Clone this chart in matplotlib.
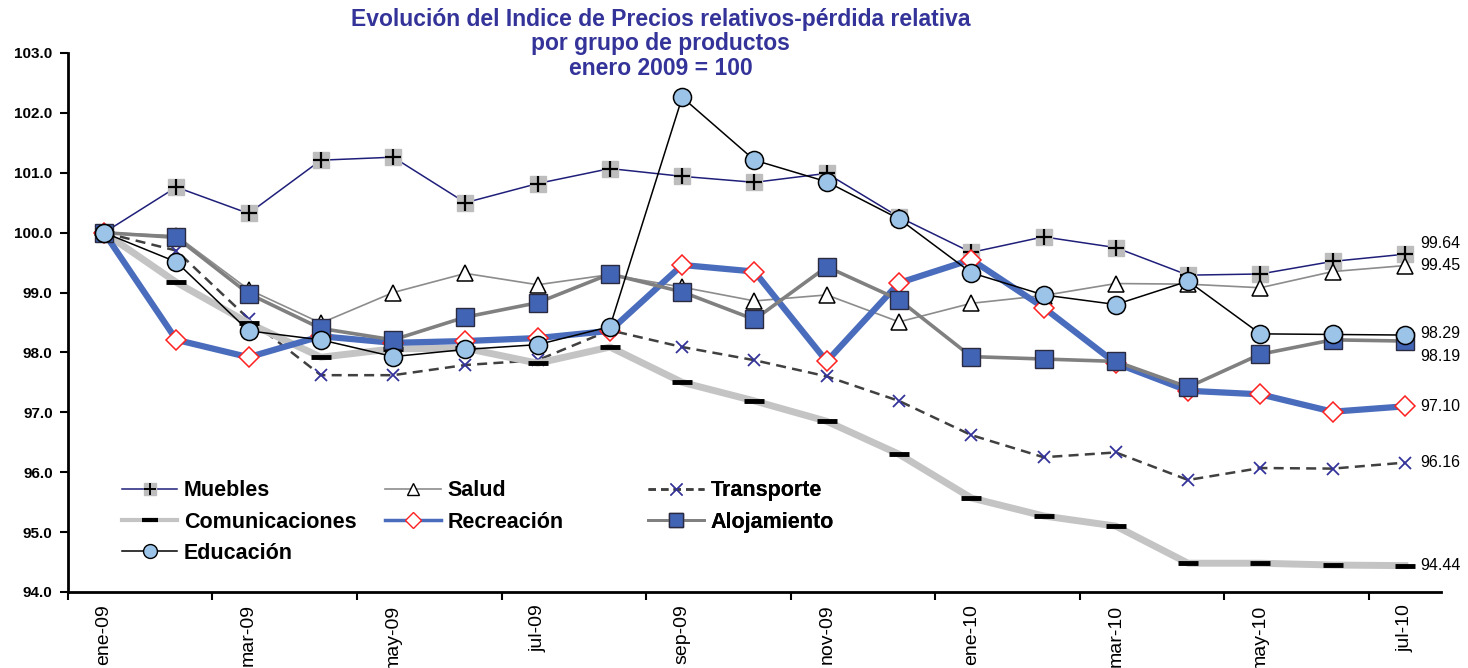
import matplotlib
matplotlib.use("Agg")
import matplotlib.pyplot as plt
from matplotlib.lines import Line2D

plt.rcParams['font.family'] = ['Liberation Sans', 'DejaVu Sans']

# meses de ene-09 a jul-10
meses = ["ene-09", "feb-09", "mar-09", "abr-09", "may-09", "jun-09", "jul-09", "ago-09",
         "sep-09", "oct-09", "nov-09", "dic-09", "ene-10", "feb-10", "mar-10", "abr-10",
         "may-10", "jun-10", "jul-10"]

muebles = [100.0, 100.76, 100.32, 101.21, 101.26, 100.50, 100.82, 101.07, 100.94, 100.84,
           100.99, 100.26, 99.67, 99.93, 99.75, 99.29, 99.31, 99.52, 99.64]
salud = [100.0, 99.95, 99.05, 98.49, 99.00, 99.32, 99.13, 99.30, 99.09, 98.86,
         98.96, 98.51, 98.82, 98.95, 99.15, 99.14, 99.08, 99.35, 99.45]
transporte = [100.0, 99.70, 98.56, 97.62, 97.62, 97.79, 97.87, 98.37, 98.09, 97.87,
              97.60, 97.19, 96.62, 96.25, 96.33, 95.87, 96.07, 96.06, 96.16]
comunicaciones = [100.0, 99.17, 98.49, 97.92, 98.06, 98.07, 97.82, 98.09, 97.50, 97.19,
                  96.85, 96.30, 95.57, 95.27, 95.10, 94.48, 94.48, 94.45, 94.44]
recreacion = [100.0, 98.21, 97.92, 98.27, 98.16, 98.19, 98.24, 98.36, 99.46, 99.35,
              97.85, 99.16, 99.55, 98.75, 97.82, 97.36, 97.30, 97.01, 97.10]
alojamiento = [100.0, 99.92, 98.98, 98.40, 98.21, 98.59, 98.83, 99.31, 99.01, 98.55,
               99.43, 98.88, 97.93, 97.89, 97.85, 97.42, 97.97, 98.21, 98.19]
educacion = [100.0, 99.51, 98.36, 98.21, 97.93, 98.05, 98.13, 98.43, 102.26, 101.21,
             100.85, 100.23, 99.33, 98.96, 98.80, 99.19, 98.31, 98.30, 98.29]

x = list(range(len(meses)))

fig = plt.figure(figsize=(14.68, 6.68), dpi=100)
ax = fig.add_axes([0.0463, 0.1138, 0.9353, 0.8069])

# Muebles: cuadro gris con una cruz negra encima
ax.plot(x, muebles, color='#1F1F7A', lw=1.1, marker='s', ms=11,
        mfc='#BDBDBD', mec='#BDBDBD', zorder=3)
ax.plot(x, muebles, ls='none', marker='+', ms=12, mew=1.6, color='black', zorder=3)
ax.plot(x, salud, color='#8C8C8C', lw=1.2, marker='^', ms=11,
        mfc='white', mec='black', mew=1.1, zorder=3)
ax.plot(x, transporte, color='#404040', lw=1.8, ls=(0, (4, 2.5)), marker='x',
        ms=9, mew=1.3, mec='#333399', zorder=3)
ax.plot(x, comunicaciones, color='#C4C4C4', lw=5, marker='_', ms=14, mew=3.5,
        mec='black', zorder=3)
ax.plot(x, recreacion, color='#4A6CBD', lw=4.5, marker='D', ms=10,
        mfc='white', mec='#FF2020', mew=1.1, zorder=4)
ax.plot(x, alojamiento, color='#808080', lw=2.6, marker='s', ms=13,
        mfc='#4264B4', mec='#2A2A40', mew=1.0, zorder=4)
ax.plot(x, educacion, color='black', lw=1.1, marker='o', ms=13,
        mfc='#9CC3E8', mec='black', mew=1.1, zorder=5)

# etiquetas del ultimo valor
ultimos = [(muebles[-1], 8), (salud[-1], 0), (educacion[-1], 1), (alojamiento[-1], -11),
           (recreacion[-1], 0), (transporte[-1], 0), (comunicaciones[-1], 0)]
for val, dy in ultimos:
    ax.annotate(f"{val:.2f}", (x[-1], val), xytext=(11, dy), textcoords='offset points',
                va='center', ha='left', fontsize=11.5, annotation_clip=False)

ax.set_xlim(-0.5, len(meses) - 0.5)
ax.set_ylim(94, 103)
ax.set_yticks([94 + i for i in range(10)])
ax.set_yticklabels([f"{94 + i:.1f}" for i in range(10)], fontweight='bold', fontsize=11)

ax.set_xticks([i - 0.5 for i in range(0, len(meses), 2)])
ax.set_xticklabels([])
ax.set_xticks(x[::2], minor=True)
ax.set_xticklabels(meses[::2], minor=True, rotation=90, fontsize=14)
ax.tick_params(axis='x', which='minor', length=0, pad=9)
ax.tick_params(axis='both', which='major', length=6, width=1.5, direction='out')
ax.tick_params(axis='y', pad=5)

for s in ['top', 'right']:
    ax.spines[s].set_visible(False)
for s in ['left', 'bottom']:
    ax.spines[s].set_linewidth(2)

# leyenda con manejadores pequeños
h_mue = (Line2D([], [], color='#1F1F7A', lw=1.1, marker='s', ms=8, mfc='#BDBDBD', mec='#BDBDBD'),
         Line2D([], [], ls='none', marker='+', ms=9, mew=1.4, color='black'))
h_sal = Line2D([], [], color='#8C8C8C', lw=1.2, marker='^', ms=9, mfc='white', mec='black')
h_tra = Line2D([], [], color='#404040', lw=1.8, ls=(0, (3, 2)), marker='x', ms=8, mec='#333399')
h_com = Line2D([], [], color='#C4C4C4', lw=3, marker='_', ms=11, mew=3, mec='black')
h_rec = Line2D([], [], color='#4A6CBD', lw=2.5, marker='D', ms=8, mfc='white', mec='#FF2020')
h_alo = Line2D([], [], color='#808080', lw=2, marker='s', ms=10, mfc='#4264B4', mec='#2A2A40')
h_edu = Line2D([], [], color='black', lw=1.1, marker='o', ms=10, mfc='#9CC3E8', mec='black')

# una leyenda por columna, como en el original
columnas = [([h_mue, h_com, h_edu], ["Muebles", "Comunicaciones", "Educación"], 0.039),
            ([h_sal, h_rec], ["Salud", "Recreación"], 0.231),
            ([h_tra, h_alo], ["Transporte", "Alojamiento"], 0.4224)]
for handles, labels, x0 in columnas:
    leg = ax.legend(handles, labels, loc='upper left', bbox_to_anchor=(x0, 0.207),
                    frameon=False, prop={'weight': 'bold', 'size': 15.5},
                    handlelength=2.6, handletextpad=0.3, labelspacing=0.47,
                    borderpad=0, borderaxespad=0)
    ax.add_artist(leg)

fig.text(0.45, 0.988, "Evolución del Indice de Precios relativos-pérdida relativa\n"
         "por grupo de productos\nenero 2009 = 100", ha='center', va='top',
         fontsize=16.5, fontweight='bold', color='#333399', linespacing=1.08)

fig.savefig("out.png", dpi=100)
